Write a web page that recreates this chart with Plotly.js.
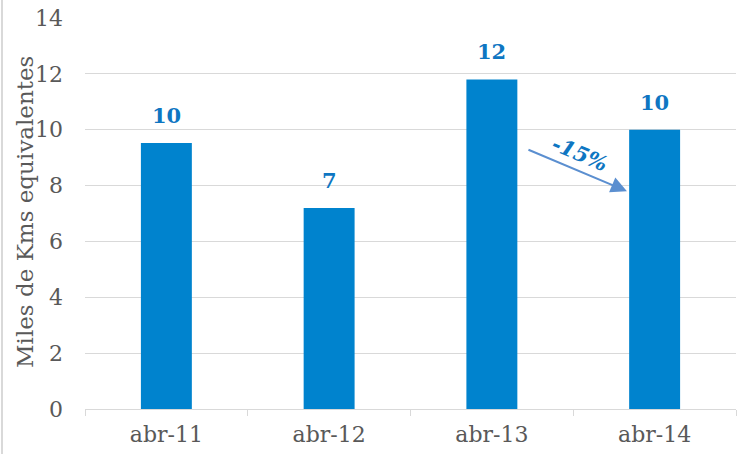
<!DOCTYPE html>
<html><head><meta charset="utf-8">
<script src="https://cdn.plot.ly/plotly-3.0.1.min.js"></script>
<style>html,body{margin:0;padding:0;background:#fff}#chart{width:745px;height:454px}</style>
</head><body><div id="chart"></div>
<script>
const categories = ["abr-11", "abr-12", "abr-13", "abr-14"];
const values = [9.52, 7.2, 11.8, 10.0];
const labels = ["10", "7", "12", "10"];
const yTicks = [0, 2, 4, 6, 8, 10, 12, 14];
const yTitle = "Miles de Kms equivalentes";
const changeLabel = "-15%";

const serif = "DejaVu Serif, serif";
const barColor = "#0083CE";
const labelColor = "#0E76C2";

const trace = {
  type: "bar", x: categories, y: values,
  marker: {color: barColor}, width: 0.313,
  hoverinfo: "none"
};

const annotations = categories.map((c, i) => ({
  x: c, y: values[i], xref: "x", yref: "y", text: labels[i],
  showarrow: false, yanchor: "bottom", yshift: 13,
  font: {family: serif, size: 21, color: labelColor, weight: "bold"}
}));
annotations.push({
  x: 2.83, y: 7.8, xref: "x", yref: "y", ax: -100, ay: -42,
  text: "", showarrow: true, arrowhead: 2, arrowsize: 1.6, arrowwidth: 2,
  arrowcolor: "#5B8FD0"
});
annotations.push({
  x: 2.54, y: 9.15, xref: "x", yref: "y", text: "<b><i>" + changeLabel + "</i></b>",
  showarrow: false, textangle: 23,
  font: {family: serif, size: 21, color: labelColor}
});
annotations.push({
  x: -60/651, y: (409 - 212) / 391, xref: "paper", yref: "paper",
  text: yTitle, showarrow: false, textangle: -90,
  xanchor: "center", yanchor: "middle",
  font: {family: serif, size: 23, color: "#595959"}
});

const layout = {
  width: 745, height: 454,
  margin: {l: 85, r: 9, t: 18, b: 45},
  paper_bgcolor: "#fff", plot_bgcolor: "#fff",
  showlegend: false,
  xaxis: {
    type: "category", showline: true, linecolor: "#D9D9D9", linewidth: 1,
    ticks: "outside", tickson: "boundaries", ticklen: 6, tickcolor: "#D9D9D9",
    ticklabelstandoff: 6,
    tickfont: {family: serif, size: 22, color: "#595959"},
    showgrid: false, fixedrange: true
  },
  yaxis: {
    range: [0, 14], tickvals: yTicks, showgrid: true, gridcolor: "#D9D9D9", gridwidth: 1,
    zeroline: false, showline: false, ticks: "",
    ticklabelstandoff: 21,
    tickfont: {family: serif, size: 22, color: "#595959"},
    fixedrange: true
  },
  annotations: annotations,
  shapes: [{
    type: "line", xref: "paper", yref: "paper",
    x0: -83/651, x1: -83/651, y0: -45/391, y1: 436/391,
    line: {color: "#D9D9D9", width: 2}
  }]
};

Plotly.newPlot("chart", [trace], layout, {displayModeBar: false, staticPlot: true});
</script></body></html>
